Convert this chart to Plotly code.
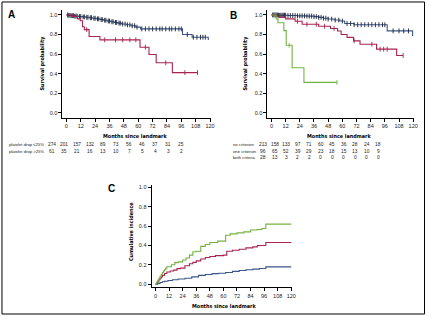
import plotly.graph_objects as go

W, H = 431, 316

# ---------------- DATA ----------------
# Panel A : Kaplan-Meier, platelet drop
a_low_t = [0, 2, 4, 7, 10, 13, 16, 19, 22, 25, 28, 31, 34, 37, 40, 43, 46, 50, 54, 58, 62, 97, 105, 118.5]
a_low_s = [1.0, 0.996, 0.992, 0.988, 0.984, 0.98, 0.976, 0.972, 0.966, 0.96, 0.953, 0.946, 0.938, 0.93,
           0.923, 0.916, 0.908, 0.899, 0.89, 0.875, 0.857, 0.80, 0.772, 0.75]
a_low_end = 119
a_low_cens = [1, 2, 3, 4, 5, 6, 7, 8, 9, 11, 12, 14, 15, 17, 18, 20, 21, 23, 24, 26, 27, 29, 30, 32, 33, 35,
              36, 38, 39, 41, 42, 44, 45, 47, 49, 51, 53, 55, 57, 59, 63, 66, 69, 72, 75, 78, 80, 83, 86,
              88, 91, 94, 96, 101, 106, 109, 112, 114, 116]

a_high_t = [0, 5, 9.4, 11.6, 13.5, 15, 19, 28, 61.5, 69, 75, 88.5]
a_high_s = [1.0, 0.985, 0.96, 0.94, 0.88, 0.85, 0.78, 0.745, 0.67, 0.595, 0.51, 0.41]
a_high_end = 109.5
a_high_cens = [17, 32, 41, 47, 53, 58, 66, 83, 99, 109.5]

# Panel B : Kaplan-Meier, criteria
b_none_t = [0, 6, 14, 22, 30, 36, 40, 44, 48, 53, 58, 62, 70, 98, 119.5]
b_none_s = [1.0, 0.997, 0.994, 0.991, 0.988, 0.983, 0.975, 0.967, 0.958, 0.948, 0.938, 0.912, 0.9, 0.837, 0.79]
b_none_end = 120
b_none_cens = [1, 2, 3, 4, 5, 6, 7, 8, 9, 10, 11, 12, 14, 16, 18, 20, 22, 24, 26, 28, 30, 32, 34, 36, 38,
               40, 42, 44, 46, 48, 51, 54, 57, 60, 64, 67, 70, 73, 76, 79, 82, 85, 88, 91, 94, 96, 103,
               108, 112, 116]

b_one_t = [0, 3.5, 7, 12, 20, 26, 40, 50, 56, 59, 64, 69.5, 75, 89, 106]
b_one_s = [1.0, 0.99, 0.975, 0.96, 0.935, 0.905, 0.885, 0.862, 0.835, 0.80, 0.77, 0.735, 0.70, 0.65, 0.585]
b_one_end = 111.5
b_one_cens = [22, 30, 38, 45, 53, 70, 85, 92, 95, 98, 111.5]

b_both_t = [0, 4, 5.5, 10.5, 12.5, 17.5, 27.5]
b_both_s = [1.0, 0.96, 0.92, 0.84, 0.69, 0.46, 0.31]
b_both_end = 55.5
b_both_cens = [15, 55.5]

# Panel C : cumulative incidence
c_green_t = [0, 1, 2, 3, 4, 5, 6, 7, 8, 9, 10, 14, 17, 20, 24, 27, 30, 33, 36, 40, 44, 48, 55, 62, 66, 72,
             78, 84, 90, 94, 97.5, 120]
c_green_v = [0, 0.02, 0.04, 0.06, 0.08, 0.10, 0.12, 0.135, 0.15, 0.165, 0.18, 0.20, 0.222, 0.23, 0.25,
             0.27, 0.30, 0.335, 0.34, 0.39, 0.41, 0.43, 0.445, 0.505, 0.52, 0.53, 0.54, 0.56, 0.565,
             0.575, 0.62, 0.62]
c_red_t = [0, 1, 2, 3, 4, 5, 6, 8, 10, 13, 16, 19, 22, 26, 30, 33, 36, 40, 44, 48, 53, 60, 63, 68, 74,
           80, 86, 90, 97.5, 120]
c_red_v = [0, 0.015, 0.03, 0.045, 0.06, 0.075, 0.09, 0.11, 0.125, 0.135, 0.145, 0.16, 0.165, 0.19, 0.21,
           0.225, 0.24, 0.26, 0.275, 0.285, 0.295, 0.30, 0.34, 0.35, 0.36, 0.375, 0.385, 0.40, 0.43, 0.43]
c_blue_t = [0, 2, 4, 6, 8, 11, 15, 20, 26, 32, 38, 44, 50, 56, 62, 68, 74, 80, 86, 92, 97.5, 120]
c_blue_v = [0, 0.008, 0.016, 0.024, 0.03, 0.038, 0.045, 0.052, 0.06, 0.075, 0.09, 0.10, 0.108, 0.112,
            0.12, 0.132, 0.14, 0.148, 0.155, 0.162, 0.178, 0.178]

# Axis ticks
x_ticks = [0, 12, 24, 36, 48, 60, 72, 84, 96, 108, 120]
y_ticks = [0.0, 0.2, 0.4, 0.6, 0.8, 1.0]

# Risk tables
risk_a_labels = ["platelet drop \u226425%", "platelet drop >25%"]
risk_a = [[274, 201, 157, 132, 89, 73, 56, 46, 37, 31, 25],
          [61, 35, 21, 16, 13, 10, 7, 5, 4, 3, 2]]
risk_b_labels = ["no criterion", "one criterion", "both criteria"]
risk_b = [[213, 158, 133, 97, 71, 60, 45, 36, 28, 24, 18],
          [96, 65, 52, 39, 29, 23, 18, 15, 13, 10, 9],
          [28, 13, 3, 2, 2, 0, 0, 0, 0, 0, 0]]

# ---------------- STYLE ----------------
BLUE = "#3b5688"
RED = "#a8234f"
GREEN = "#74b240"
CENS_BLUE = "#1c2238"
TXT = "#222222"
TITLE_FONT = "Liberation Sans Narrow, Arial Narrow, DejaVu Sans Condensed, Liberation Sans, sans-serif"
TICK_FONT = "Liberation Sans, Arial, sans-serif"


def px_x(p):
    return p / W


def px_y(p):
    return 1 - p / H


def step_at(ts, ss, x):
    v = ss[0]
    for t, s in zip(ts, ss):
        if t <= x:
            v = s
    return v


fig = go.Figure()


def km(ts, ss, end, cens, color, ax, ccolor=None):
    xs = list(ts) + [end]
    ys = list(ss) + [ss[-1]]
    fig.add_trace(go.Scatter(x=xs, y=ys, mode="lines", line=dict(color=color, width=1.1, shape="hv"),
                             xaxis=ax[0], yaxis=ax[1], showlegend=False, hoverinfo="skip"))
    cy = [step_at(ts, ss, c) for c in cens]
    fig.add_trace(go.Scatter(x=cens, y=cy, mode="markers",
                             marker=dict(symbol="line-ns", size=3.5,
                                         line=dict(width=0.9, color=ccolor or color)),
                             xaxis=ax[0], yaxis=ax[1], showlegend=False, hoverinfo="skip"))


km(a_low_t, a_low_s, a_low_end, a_low_cens, BLUE, ("x", "y"), CENS_BLUE)
km(a_high_t, a_high_s, a_high_end, a_high_cens, RED, ("x", "y"))
km(b_none_t, b_none_s, b_none_end, b_none_cens, BLUE, ("x2", "y2"), CENS_BLUE)
km(b_one_t, b_one_s, b_one_end, b_one_cens, RED, ("x2", "y2"))
km(b_both_t, b_both_s, b_both_end, b_both_cens, GREEN, ("x2", "y2"))

for ts, vs, col in [(c_blue_t, c_blue_v, BLUE), (c_red_t, c_red_v, RED), (c_green_t, c_green_v, GREEN)]:
    fig.add_trace(go.Scatter(x=ts, y=vs, mode="lines", line=dict(color=col, width=1.1, shape="hv"),
                             xaxis="x3", yaxis="y3", showlegend=False, hoverinfo="skip"))

axis_common = dict(showline=True, linecolor="black", linewidth=1, ticks="outside", ticklen=3,
                   tickwidth=1, tickcolor="black", showgrid=False, zeroline=False,
                   tickfont=dict(family=TICK_FONT, size=5.5, color=TXT), fixedrange=True)


def xax(dom, rng, anchor):
    d = dict(axis_common)
    d.update(domain=[px_x(dom[0]), px_x(dom[1])], range=rng, tickvals=x_ticks, anchor=anchor)
    return d


def yax(dom, rng, anchor):
    d = dict(axis_common)
    d.update(domain=[px_y(dom[1]), px_y(dom[0])], range=rng, tickvals=y_ticks, tickformat=".1f",
             anchor=anchor)
    return d


fig.update_layout(
    width=W, height=H, margin=dict(l=0, r=0, t=0, b=0), autosize=False,
    paper_bgcolor="white", plot_bgcolor="white",
    xaxis=xax((63, 213), [-3.31, 120.8], "y"),
    yaxis=yax((9, 117), [-0.051, 1.051], "x"),
    xaxis2=xax((270, 418), [-3.36, 120.8], "y2"),
    yaxis2=yax((9, 117), [-0.051, 1.051], "x2"),
    xaxis3=xax((153, 295), [-3.5, 120.9], "y3"),
    yaxis3=yax((184.5, 287), [-0.031, 1.026], "x3"),
)

ann = []


def text(x, y, s, size, bold=False, family=TICK_FONT, xanchor="center", angle=0, color=TXT):
    ann.append(dict(x=px_x(x), y=px_y(y), xref="paper", yref="paper", text=("<b>%s</b>" % s) if bold else s,
                    showarrow=False, xanchor=xanchor, yanchor="middle", textangle=angle,
                    font=dict(family=family, size=size, color=color)))


# panel letters
text(12, 14, "A", 10, bold=True, family="Liberation Sans, Arial, sans-serif", color="black")
text(235.5, 14.5, "B", 10, bold=True, family="Liberation Sans, Arial, sans-serif", color="black")
text(113, 188, "C", 10, bold=True, family="Liberation Sans, Arial, sans-serif", color="black")

# axis titles
TS = 5.4
text(136, 135, "Months since landmark", TS, bold=True, family=TITLE_FONT, color="black")
text(342, 135, "Months since landmark", TS, bold=True, family=TITLE_FONT, color="black")
text(226, 306, "Months since landmark", TS, bold=True, family=TITLE_FONT, color="black")
text(43, 62, "Survival probability", TS, bold=True, family=TITLE_FONT, angle=-90, color="black")
text(248, 62, "Survival probability", TS, bold=True, family=TITLE_FONT, angle=-90, color="black")
text(132, 231, "Cumulative incidence", TS, bold=True, family=TITLE_FONT, angle=-90, color="black")

# risk tables
LS = 4.2
rows_a_y = [144, 150.5]
for lab, vals, ry in zip(risk_a_labels, risk_a, rows_a_y):
    text(7, ry, lab, LS, xanchor="left")
    for i, v in enumerate(vals):
        text(52 + 13.1 * i, ry, str(v), 4.8)

rows_b_y = [144, 150.5, 157]
for lab, vals, ry in zip(risk_b_labels, risk_b, rows_b_y):
    text(233, ry, lab, LS, xanchor="left")
    for i, v in enumerate(vals):
        text(265.5 + 11.65 * i, ry, str(v), 4.8)

fig.update_layout(annotations=ann)

# outer frame
fig.add_shape(type="rect", xref="paper", yref="paper", x0=px_x(2), x1=px_x(428.5), y0=px_y(314),
              y1=px_y(1), line=dict(color="black", width=1), fillcolor="rgba(0,0,0,0)")

fig.write_html("out.html")
